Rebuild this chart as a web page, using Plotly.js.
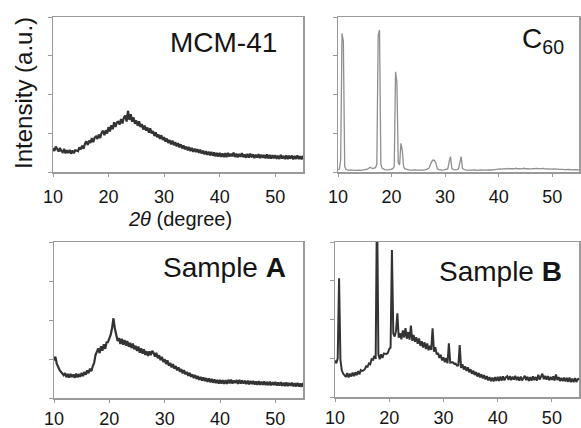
<!DOCTYPE html>
<html>
<head>
<meta charset="utf-8">
<script src="https://cdn.plot.ly/plotly-3.0.1.min.js"></script>
<style>html,body{margin:0;padding:0;background:#fff;}#chart{width:581px;height:428px;}</style>
</head>
<body>
<div id="chart"></div>
<script>
// 2-theta grid: starts at 10 degrees, 0.25 degree step
const twoThetaStart = 10;
const twoThetaStep = 0.25;
const xTicks = [10, 20, 30, 40, 50];
const panelLabels = ["MCM-41", "C<sub>60</sub>", "Sample <b>A</b>", "Sample <b>B</b>"];

const mcm41 = [
15.3,13.6,16.4,14.2, 13.2,15.6,13.5,12.8, 14.9,12.0,14.1,12.2, 14.3,11.8,13.9,12.1,
14.0,13.8,13.4,15.8, 14.6,17.0,15.0,18.2, 19.8,17.4,20.3,18.7, 21.9,19.2,22.1,22.9,
21.4,24.2,21.9,25.4, 26.6,23.7,26.9,24.8, 29.0,26.2,30.1,27.6, 32.1,29.0,32.0,32.4,
30.6,34.2,31.3,35.1, 36.4,32.5,39.5,33.6, 37.3,32.4,35.2,31.1, 33.2,29.8,32.7,29.0,
30.9,27.4,30.0,26.7, 28.7,25.4,28.2,24.8, 26.5,23.2,25.6,22.5, 24.2,21.3,23.7,20.7,
22.5,19.6,21.6,18.7, 20.6,17.8,20.2,17.3, 19.3,16.5,18.6,15.9, 17.9,15.2,17.2,14.6,
16.4,13.9,16.1,13.5, 15.6,13.0,15.1,12.9, 14.7,12.3,14.4,11.9, 13.8,11.4,13.4,11.1,
13.1,10.7,12.9,10.5, 12.7,10.1,12.4,10.0, 12.3,9.8,12.0,9.6, 12.2,9.5,12.4,9.9,
11.8,10.1,12.5,9.7, 11.9,9.4,11.6,9.8, 12.1,9.6,11.3,9.2, 11.7,9.3,11.8,9.5,
11.4,9.0,11.2,9.3, 11.5,8.9,11.1,9.1, 11.0,8.8,11.3,8.7, 11.1,8.6,10.8,8.9,
10.9,8.5,10.6,8.4, 11.0,8.7,10.4,8.3, 10.7,8.4,10.5,8.6, 10.6,8.2,10.3,8.4,
10.8,8.3,10.2,8.1, 10.4,8.3,10.1
];

const c60 = [
1.5,1.8,8.0,89.5, 84.0,3.5,1.6,1.2, 1.1,1.3,1.0,1.2, 1.0,1.1,1.3,1.0,
1.2,1.0,1.1,1.3, 1.2,1.4,1.8,2.4, 3.0,2.6,2.2,2.5, 2.8,5.0,88.0,91.6,
5.0,2.4,1.8,1.5, 1.4,1.3,1.5,1.6, 1.8,2.2,3.5,64.7, 58.0,6.0,4.5,18.5,
14.0,3.5,2.0,1.6, 1.4,1.3,1.2,1.3, 1.2,1.1,1.3,1.2, 1.1,1.2,1.3,1.1,
1.2,1.4,1.6,2.0, 2.5,5.0,6.8,7.7, 7.5,6.0,2.5,1.6, 1.4,1.3,1.2,1.3,
1.4,1.6,2.0,6.5, 9.9,2.5,1.6,1.4, 1.3,1.5,2.0,7.0, 9.9,2.2,1.5,1.3,
1.2,1.1,1.2,1.3, 1.2,1.3,1.2,1.1, 1.2,1.1,1.3,1.2, 1.1,1.2,1.3,1.2,
1.3,1.2,1.4,1.3, 1.4,1.6,1.5,1.7, 1.8,2.0,1.8,2.1, 2.0,2.2,1.9,2.3,
2.1,2.0,2.3,2.1, 2.2,2.4,2.1,2.3, 2.2,2.0,2.3,2.4, 2.1,2.3,2.2,2.0,
2.3,2.1,2.2,2.4, 2.2,2.3,2.0,2.2, 2.1,2.3,2.1,2.0, 2.2,1.9,2.1,2.0,
1.9,2.0,1.8,1.9, 1.8,1.7,1.8,1.6, 1.7,1.5,1.6,1.5, 1.5,1.6,1.4,1.5,
1.5,1.4,1.5,1.4, 1.4,1.5,1.4
];

const sampleA = [
24.0,26.5,22.0,19.5, 18.0,16.8,15.5,14.6, 15.9,13.3,15.4,13.1, 15.5,13.4,15.1,12.9,
15.7,13.2,15.3,13.6, 16.1,14.0,16.7,14.9, 17.7,15.9,18.8,17.1, 20.3,22.4,27.5,29.8,
31.8,28.8,33.2,30.3, 34.4,31.5,35.6,35.8, 38.2,40.6,45.0,51.1, 44.5,39.0,36.5,38.4,
34.6,38.0,34.2,37.2, 33.6,36.5,32.8,35.4, 32.0,34.9,31.2,33.5, 30.2,33.0,29.0,31.8,
28.4,31.2,27.6,30.0, 27.0,29.9,27.5,30.2, 29.0,26.6,29.0,25.5, 27.4,24.3,26.4,23.1,
24.8,21.8,24.1,20.7, 22.5,19.6,21.7,18.8, 20.5,17.7,19.6,16.9, 18.5,15.8,17.9,15.2,
16.7,14.2,16.2,13.6, 15.2,12.8,14.7,12.2, 14.1,11.6,13.5,11.2, 13.2,10.8,12.8,10.4,
12.5,10.1,12.2,9.8, 11.9,9.5,11.6,9.3, 11.6,9.2,11.5,9.0, 11.4,9.1,11.7,9.3,
11.8,9.2,11.2,9.6, 11.5,9.0,11.6,9.2, 11.3,9.3,11.1,8.9, 11.2,8.7,11.0,9.0,
10.9,8.6,10.7,8.4, 10.8,8.4,10.5,8.5, 10.7,8.3,10.3,8.2, 10.5,8.1,10.2,8.3,
10.3,7.9,10.0,8.0, 10.2,7.8,9.8,7.7, 10.0,7.6,9.6,7.8, 9.9,7.5,9.5,7.4,
9.7,7.3,9.3,7.2, 9.5,7.1,9.1
];

const sampleB = [
23.5,21.8,25.0,76.6, 24.0,17.2,15.1,14.2, 13.0,15.4,12.6,15.1, 13.2,15.7,13.4,16.0,
14.0,16.6,14.6,17.4, 16.8,17.1,18.0,19.8, 19.5,21.6,21.1,24.4, 24.0,26.6,24.6,130.0,
27.5,24.4,27.5,25.2, 28.0,27.9,27.8,28.5, 31.0,31.9,94.8,41.0, 39.0,42.5,54.0,38.3,
41.2,37.2,43.0,38.4, 44.5,37.6,41.9,37.0, 46.0,36.2,40.1,35.6, 38.6,34.3,37.8,33.0,
36.0,31.9,35.4,31.0, 34.5,30.2,33.0,30.4, 44.3,29.2,32.1,27.6, 28.5,25.2,27.2,23.6,
25.6,22.5,25.2,21.8, 34.6,22.2,22.1,22.4, 21.4,21.5,20.2,20.4, 33.5,18.8,21.2,17.7,
19.8,16.8,19.2,15.9, 17.9,15.0,17.0,14.2, 16.1,13.2,15.5,12.6, 14.7,12.0,14.1,11.4,
13.5,10.7,12.8,10.2, 12.5,10.1,12.9,10.3, 13.0,10.4,13.2,10.6, 13.4,10.7,12.7,13.4,
11.0,13.5,10.8,13.1, 11.2,13.6,10.9,13.0, 10.5,13.2,10.7,12.6, 13.7,10.8,13.1,10.4,
12.8,10.5,13.3,10.9, 12.9,10.6,14.4,11.3, 13.2,15.0,11.5,13.6, 11.2,13.5,10.8,13.0,
11.0,13.3,10.6,14.5, 10.9,12.8,10.3,12.4, 10.2,12.6,10.0,12.3, 9.8,12.5,9.6,11.9,
9.5,12.2,9.7,11.5, 11.8,9.9,11.6
];

const W = 581, H = 428;
// panel boxes in pixels [left, right, top, bottom]
const boxes = [[53,303,17,172],[338,579,17,172],[54,303,242,398],[335,579,242,397]];
const series = [mcm41, c60, sampleA, sampleB];
const lineColors = ['#333333', '#8f8f8f', '#333333', '#333333'];
const lineWidths = [2.2, 1.3, 2.2, 2.0];
const standoffs = [5, 5, 1, 1];

const traces = [];
const layout = {
  width: W, height: H,
  margin: {l:0, r:0, t:0, b:0},
  paper_bgcolor: '#fff', plot_bgcolor: '#fff',
  showlegend: false,
  font: {family: 'Liberation Sans, Arial, sans-serif', color: '#222'},
  annotations: []
};

boxes.forEach((b, i) => {
  const n = i === 0 ? '' : String(i + 1);
  traces.push({
    type: 'scatter', mode: 'lines',
    x0: twoThetaStart, dx: twoThetaStep, y: series[i],
    xaxis: 'x' + n, yaxis: 'y' + n,
    line: {color: lineColors[i], width: lineWidths[i]},
    hoverinfo: 'skip'
  });
  layout['xaxis' + n] = {
    domain: [b[0] / W, b[1] / W], anchor: 'y' + n,
    range: [10, 55], tickmode: 'array', tickvals: xTicks, ticktext: xTicks.map(String),
    ticks: 'outside', ticklen: 3, tickwidth: 1, tickcolor: '#999',
    showline: true, mirror: true, linecolor: '#9a9a9a', linewidth: 1.5,
    showgrid: false, zeroline: false,
    tickfont: {size: 18, color: '#151515', family: 'Liberation Sans, Arial, sans-serif'},
    ticklabelstandoff: standoffs[i]
  };
  layout['yaxis' + n] = {
    domain: [1 - b[3] / H, 1 - b[2] / H], anchor: 'x' + n,
    range: [0, 100], tickmode: 'array', tickvals: [0, 25, 50, 75, 100],
    showticklabels: false,
    ticks: 'outside', ticklen: 4, tickwidth: 1, tickcolor: '#999',
    showline: true, mirror: true, linecolor: '#9a9a9a', linewidth: 1.5,
    showgrid: false, zeroline: false
  };
});

const labelPos = [[279, 42.5], [566, 40], [288, 267], [564, 271]];
labelPos.forEach((p, i) => {
  layout.annotations.push({
    xref: 'paper', yref: 'paper', x: p[0] / W, y: 1 - p[1] / H,
    xanchor: 'right', yanchor: 'middle', showarrow: false,
    text: panelLabels[i], font: {size: 28, color: '#151515'}
  });
});
layout.annotations.push({
  xref: 'paper', yref: 'paper', x: 180 / W, y: 1 - 219 / H,
  xanchor: 'center', yanchor: 'middle', showarrow: false,
  text: '<i>2θ</i> (degree)', font: {size: 20, color: '#151515'}
});
layout.annotations.push({
  xref: 'paper', yref: 'paper', x: 23 / W, y: 1 - 93 / H,
  xanchor: 'center', yanchor: 'middle', showarrow: false, textangle: -90,
  text: 'Intensity (a.u.)', font: {size: 24, color: '#151515'}
});

Plotly.newPlot('chart', traces, layout, {staticPlot: true, displayModeBar: false});
</script>
</body>
</html>
